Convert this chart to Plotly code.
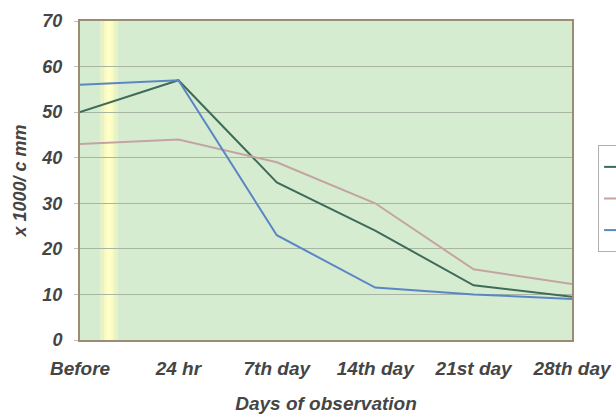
import plotly.graph_objects as go

categories = ["Before", "24 hr", "7th day", "14th day", "21st day", "28th day"]
series_names = ["Group I", "Group II", "Group III"]
dark_green = [50, 57, 34.6, 24, 12, 9.5]
pink = [43, 44, 39, 30, 15.5, 12.3]
blue = [56, 57, 23, 11.5, 10, 9]
y_ticks = [0, 10, 20, 30, 40, 50, 60, 70]

fig = go.Figure()
colors = ["#3f6b58", "#c4a3a3", "#5b86c4"]
for name, vals, c in zip(series_names, [dark_green, pink, blue], colors):
    # legend labels are cut off (not visible) in the reference, so keep the
    # legend entry text blank and carry the series name in the hover text
    fig.add_trace(go.Scatter(x=categories, y=vals, mode="lines", name=" ",
                             hovertemplate=name + ": %{y}<extra></extra>",
                             line=dict(color=c, width=2)))

FONT = "Liberation Sans, Arial"

# yellow scan strip
strips = [(0.041, 0.077, "rgba(255,250,190,0.45)"),
          (0.049, 0.069, "rgba(255,252,185,0.75)"),
          (0.054, 0.064, "rgba(255,255,200,0.9)")]
shapes = [dict(type="rect", xref="paper", yref="paper", x0=a, x1=b, y0=0, y1=1,
               fillcolor=c, line=dict(width=0), layer="below") for a, b, c in strips]

fig.update_layout(
    width=616, height=418,
    margin=dict(l=80, r=44, t=21, b=78, autoexpand=False),
    paper_bgcolor="white",
    plot_bgcolor="#d5ecd1",
    shapes=shapes,
    showlegend=True,
    legend=dict(x=1.053, y=0.611, xanchor="left", yanchor="top",
                bordercolor="#b0b0b0", borderwidth=1, bgcolor="white",
                font=dict(size=22, color="white"), tracegroupgap=0,
                itemwidth=30),
    xaxis=dict(type="category", range=[0, 5], showgrid=False,
               showline=True, linecolor="#9c8c72", linewidth=2, mirror=True,
               ticks="", tickfont=dict(family=FONT, size=19, color="#454545",
                                       weight="bold", style="italic"),
               ticklabelstandoff=10,
               title=dict(text="Days of observation", standoff=19,
                          font=dict(family=FONT, size=19, color="#454545",
                                    style="italic", weight="bold"))),
    yaxis=dict(range=[0, 70], tickvals=y_ticks, showgrid=True,
               gridcolor="#a7b5a2", gridwidth=1,
               showline=True, linecolor="#9c8c72", linewidth=2, mirror=True,
               ticks="outside", ticklen=4, tickcolor="#c0c0c0",
               tickfont=dict(family=FONT, size=18, color="#454545",
                             weight="bold", style="italic"),
               ticklabelstandoff=8,
               title=dict(text="x 1000/ c mm", standoff=10,
                          font=dict(family=FONT, size=18, color="#454545",
                                    style="italic", weight="bold"))),
)

fig.write_html("out.html")
